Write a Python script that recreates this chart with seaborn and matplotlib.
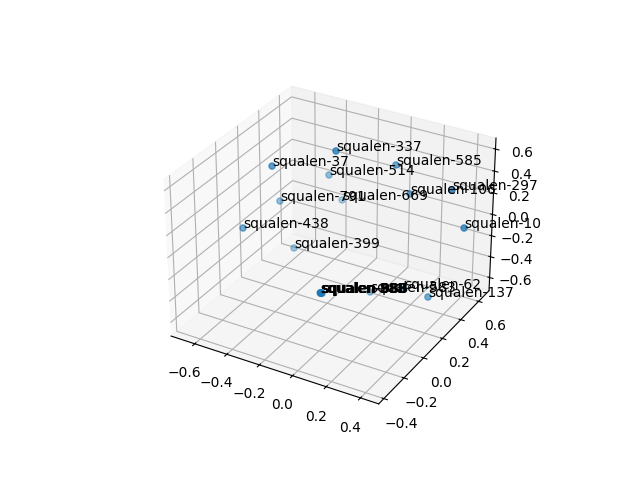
import matplotlib
matplotlib.use("Agg")
import matplotlib.pyplot as plt
import seaborn as sns

labels = ["squalen-337", "squalen-37", "squalen-514", "squalen-585", "squalen-297",
          "squalen-106", "squalen-669", "squalen-791", "squalen-438", "squalen-10",
          "squalen-399", "squalen-62", "squalen-137", "squalen-888", "squalen-988",
          "squalen-388", "squalen-983", "squalen-883", "squalen-938", "squalen-583"]
xs = [-0.17, -0.371, -0.442, 0.049, 0.479, 0.152, -0.413, -0.641, -0.569, 0.48,
      -0.579, 0.151, 0.371, -0.125, -0.119, -0.131, -0.122, -0.128, -0.125, 0.007]
ys = [0.241, -0.048, 0.61, 0.48, 0.299, 0.453, 0.699, 0.426, -0.033, 0.447,
      0.465, 0.412, 0.277, 0.021, 0.021, 0.022, 0.02, 0.022, 0.02, 0.3]
zs = [0.668, 0.668, 0.063, 0.452, 0.54, 0.25, -0.233, -0.126, 0.014, 0.082,
      -0.586, -0.611, -0.467, -0.439, -0.439, -0.44, -0.434, -0.444, -0.438, -0.609]
shade = [0.75, 0.7, 0.45, 0.6, 0.8, 0.6, 0.35, 0.45, 0.6, 0.75,
         0.4, 0.5, 0.6, 0.6, 0.6, 0.6, 0.6, 0.6, 0.6, 0.45]

color = sns.color_palette("tab10")[0]
colors = [(*color, a) for a in shade]

fig = plt.figure(figsize=(6.4, 4.8))
ax = fig.add_subplot(projection="3d")
ax.scatter(xs, ys, zs, c=colors, depthshade=False)
for x, y, z, label in zip(xs, ys, zs, labels):
    ax.text(x, y, z, label)

ax.set_xlim(-0.75, 0.505)
ax.set_ylim(-0.45, 0.72)
ax.set_zlim(-0.728, 0.699)

fig.savefig("out.png", dpi=100)
